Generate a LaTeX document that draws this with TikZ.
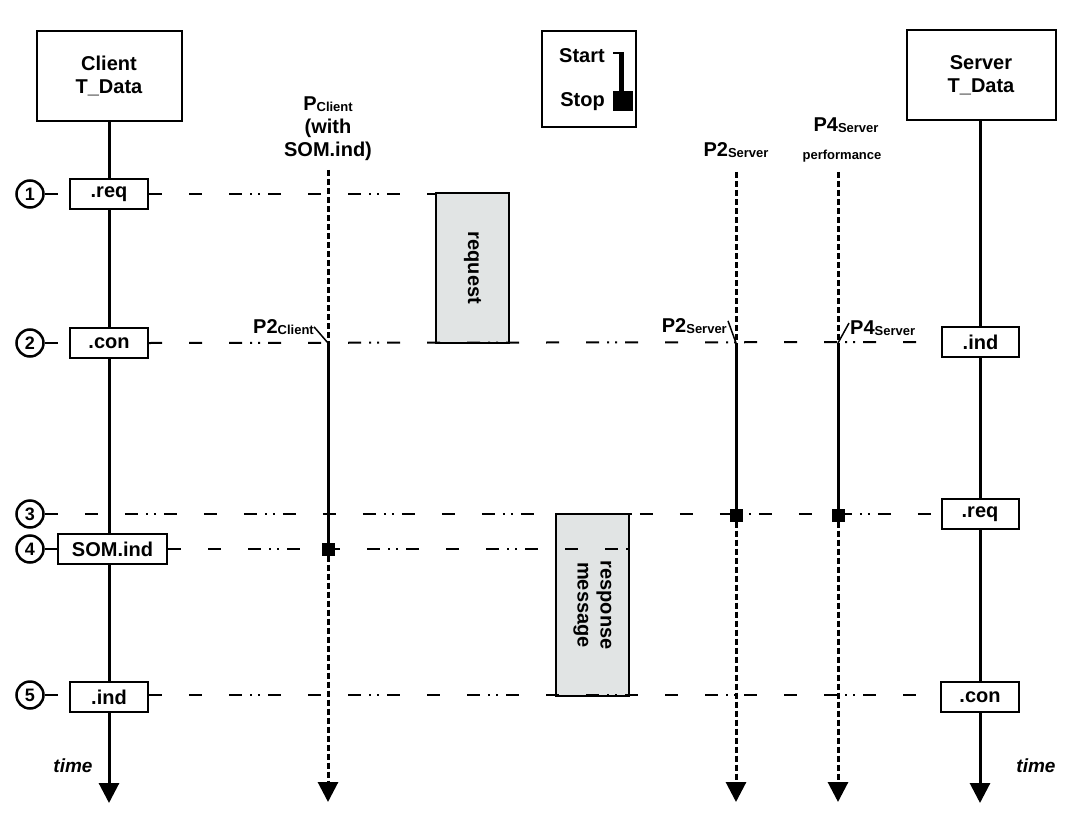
\documentclass[tikz,border=0pt]{standalone}
\usepackage{fontspec}
\setmainfont{Liberation Sans}
\usetikzlibrary{arrows.meta}
\definecolor{phasegray}{RGB}{225,228,228}
\newcommand\lsub[1]{\raisebox{-1pt}{\fontsize{13}{13}\selectfont #1}}
\begin{document}
\begin{tikzpicture}[x=1pt,y=-1pt,
  every node/.style={font=\fontsize{20}{23}\selectfont\bfseries, inner sep=0pt},
  hdr/.style={draw, line width=2pt, minimum width=145pt, minimum height=90pt, align=center, fill=white},
  evt/.style={draw, line width=2pt, minimum width=78pt, minimum height=30pt, fill=white},
  num/.style={circle, draw, line width=2.5pt, minimum size=27pt, fill=white, font=\fontsize{18}{18}\selectfont\bfseries},
  phasebox/.style={draw, line width=2.5pt, fill=phasegray, minimum width=73pt},
  life/.style={line width=3pt},
  pline/.style={line width=3pt, dash pattern=on 6pt off 3pt},
  msg/.style={line width=2pt, dash pattern=on 13pt off 27pt on 13pt off 27pt on 13pt off 8pt on 2pt off 6pt on 2pt off 8pt},
  tip/.style={-{Triangle[width=20pt,length=20pt]}},
  sq/.style={fill=black, minimum size=13pt},
  slash/.style={line width=1.5pt},
  timelab/.style={font=\fontsize{19}{19}\selectfont\bfseries\itshape},
]
\useasboundingbox (0,0) rectangle (1070,821);

% phase boxes
\node[phasebox, minimum height=150pt] (reqbox) at (472.5,268) {};
\node[rotate=-90] (reqtxt) at (reqbox.center) {request};
\node[phasebox, minimum height=182pt] (respbox) at (592.5,605) {};
\node[rotate=-90, align=center] (resptxt) at (respbox.center) {response\\message};

% headers
\node[hdr] (cbox) at (109,76) {Client\\T\_Data};
\node[hdr, minimum width=149pt] (sbox) at (981,75.5) {Server\\T\_Data};

% legend
\node[draw, line width=1.5pt, minimum width=94pt, minimum height=96pt] (lgbox) at (589,79) {};
\node[anchor=base east] (lstart) at (605,63) {Start};
\node[anchor=base east] (lstop) at (605,107) {Stop};
\node[sq, minimum size=20pt] (lsq) at (623,101.5) {};
\coordinate (ltop) at (621.5,52);
\coordinate (ltick) at (613,53);
\draw[line width=5pt] (ltop) -- (ltop |- lsq.north);
\draw[line width=2pt] (ltick) -- (ltick -| lsq.north);

% numbers
\node[num] (num1) at (30,194) {1};
\node[num] (num2) at (30,343) {2};
\node[num] (num3) at (30,514) {3};
\node[num] (num4) at (30,549) {4};
\node[num] (num5) at (30,695) {5};

% event boxes
\node[evt] (creq) at (109,194) {.req};
\node[evt] (ccon) at (109,343) {.con};
\node[evt, minimum width=109pt] (csom) at (112.5,549) {SOM.ind};
\node[evt] (cind) at (109,697) {.ind};
\node[evt, minimum width=77pt] (sind) at (980.5,342) {.ind};
\node[evt, minimum width=77pt] (sreq) at (980,514) {.req};
\node[evt] (scon) at (980,697) {.con};

% end coordinates
\coordinate (cend) at (109,803);
\coordinate (send) at (980,803);

% P client line
\node (pclab) at (328,129) [align=center] {P\lsub{Client}\\(with\\SOM.ind)};
\coordinate (pc0) at (328,170);
\coordinate (pc2) at (328,343);
\node[sq] (pcsq) at (328,549) {};
\coordinate (pcend) at (328,802);

% P2 server line
\node[anchor=base] (p2lab) at (736,157) {P2\lsub{Server}};
\coordinate (p2a) at (736,172);
\coordinate (p2b) at (736,343);
\node[sq] (p2sq) at (736,515) {};
\coordinate (p2end) at (736,802);

% P4 server line
\node[anchor=base] (p4lab) at (846,132) {P4\lsub{Server}};
\node[anchor=base, font=\fontsize{13}{13}\selectfont\bfseries] (p4perf) at (842,160) {performance};
\coordinate (p4a) at (838,172);
\coordinate (p4b) at (838,343);
\node[sq] (p4sq) at (838,515) {};
\coordinate (p4end) at (838,802);

% row-2 labels
\node[anchor=base east] (p2cl) at (314,333) {P2\lsub{Client}};
\node[anchor=base east] (p2sl) at (727,332) {P2\lsub{Server}};
\node[anchor=base west] (p4sl) at (850,334) {P4\lsub{Server}};

% message lines
\draw[msg] (num1.east) -- (creq.west);
\draw[msg] (creq.east) -- (creq.east -| reqbox.west);
\draw[msg] (num2.east) -- (ccon.west);
\draw[msg] (ccon.east) -- (sind.west);
\draw[msg] (num3.east) -- (sreq.west);
\draw[msg] (num4.east) -- (csom.west);
\draw[msg] (csom.east) -- (csom.east -| respbox.east);
\draw[msg] (num5.east) -- (num5.east -| cind.west);
\draw[msg] (cind.east |- num5) -- (num5 -| scon.west);

% redraw boxes crossed by row lines
\node[evt] at (cind) {.ind};
\node[evt] at (scon) {.con};

% lifelines
\draw[life] (cbox.south) -- (creq.north);
\draw[life] (creq.south) -- (ccon.north);
\draw[life] (ccon.south) -- (csom.north -| ccon.south);
\draw[life] (csom.south -| cind.north) -- (cind.north);
\draw[life, tip] (cind.south) -- (cend);
\draw[life] (sbox.south -| sind.north) -- (sind.north);
\draw[life] (sind.south) -- (sreq.north -| sind.south);
\draw[life] (sreq.south) -- (scon.north);
\draw[life, tip] (scon.south) -- (send);

% P lines
\draw[pline] (pc0) -- (pc2);
\draw[life] (pc2) -- (pcsq.center);
\draw[pline, tip] (pcsq.south) -- (pcend);
\draw[pline] (p2a) -- (p2b);
\draw[life] (p2b) -- (p2sq.center);
\draw[pline, tip] (p2sq.south) -- (p2end);
\draw[pline] (p4a) -- (p4b);
\draw[life] (p4b) -- (p4sq.center);
\draw[pline, tip] (p4sq.south) -- (p4end);

% slashes
\draw[slash] ([yshift=-8pt]p2cl.north east) -- (pc2);
\draw[slash] ([yshift=-3pt,xshift=1pt]p2sl.north east) -- (p2b);
\draw[slash] (p4b) -- ([yshift=-3pt,xshift=-1pt]p4sl.north west);

% time labels
\node[timelab] (tl) at (73,766) {time};
\node[timelab] (tr) at (1036,766) {time};
\end{tikzpicture}
\end{document}
